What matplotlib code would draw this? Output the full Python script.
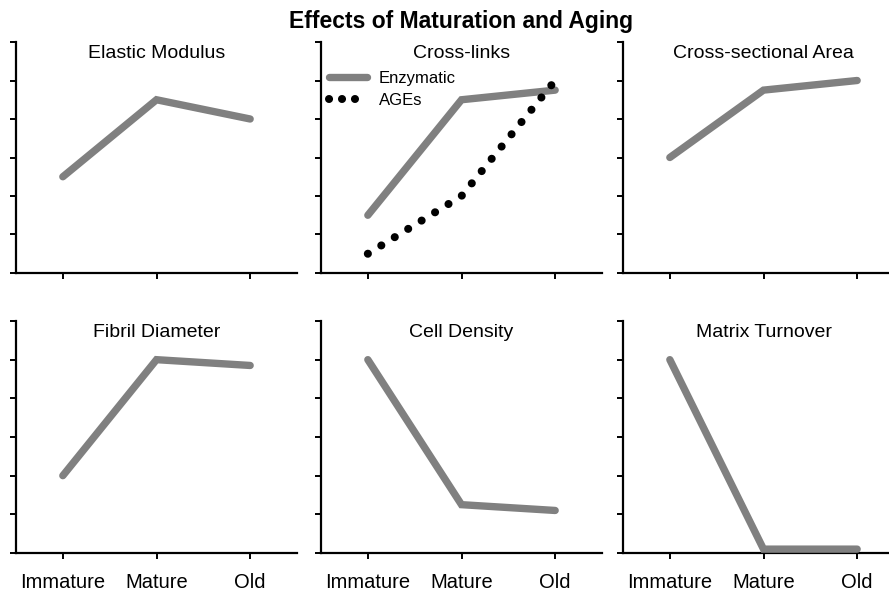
import matplotlib
matplotlib.use("Agg")
import matplotlib.pyplot as plt
from matplotlib.lines import Line2D

plt.rcParams['font.family'] = ['Liberation Sans', 'DejaVu Sans']

stages = ["Immature", "Mature", "Old"]
titles = ["Elastic Modulus", "Cross-links", "Cross-sectional Area",
          "Fibril Diameter", "Cell Density", "Matrix Turnover"]
elastic_modulus = [2.5, 4.5, 4.0]
crosslinks_enzymatic = [1.5, 4.5, 4.75]
crosslinks_ages = [0.5, 2.0, 5.0]
cross_sectional_area = [3.0, 4.75, 5.0]
fibril_diameter = [2.0, 5.0, 4.85]
cell_density = [5.0, 1.25, 1.1]
matrix_turnover = [5.0, 0.1, 0.1]
series = [elastic_modulus, crosslinks_enzymatic, cross_sectional_area,
          fibril_diameter, cell_density, matrix_turnover]

W, H = 889, 591
fig = plt.figure(figsize=(W / 100, H / 100), dpi=100)

lefts = [16, 321, 623]
tops = [42, 321]
bottoms = [273, 553]
width = 281

gray = "#808080"
LW = 5.3
DOT_LW = 5.8
axes = []
for r in range(2):
    for c in range(3):
        ax = fig.add_axes([lefts[c] / W, 1 - bottoms[r] / H, width / W,
                           (bottoms[r] - tops[r]) / H])
        axes.append(ax)

x = list(range(len(stages)))
for i, ax in enumerate(axes):
    ax.plot(x, series[i], color=gray, lw=LW, solid_capstyle='round',
            solid_joinstyle='miter', zorder=3)
    if i == 1:
        ax.plot(x, crosslinks_ages, color='black', lw=DOT_LW,
                linestyle=(0, (0.01, 1.95)), dash_capstyle='round', zorder=4)
        handles = [
            Line2D([], [], color=gray, lw=LW, solid_capstyle='round'),
            Line2D([], [], color='black', lw=DOT_LW, linestyle=(0, (0.01, 1.6)),
                   dash_capstyle='round'),
        ]
        ax.legend(handles, ["Enzymatic", "AGEs"], loc='upper left',
                  bbox_to_anchor=(-0.01, 0.92), frameon=False,
                  fontsize=12, handlelength=2.25, handletextpad=0.75,
                  borderaxespad=0.25, labelspacing=0.42)
    ax.set_xlim(-0.5, 2.5)
    ax.set_ylim(0, 6)
    ax.set_yticks(range(0, 7))
    ax.set_yticklabels([])
    ax.set_xticks(x)
    if i >= 3:
        ax.set_xticklabels(stages, fontsize=14.5)
    else:
        ax.set_xticklabels([])
    for s in ['top', 'right']:
        ax.spines[s].set_visible(False)
    for s in ['left', 'bottom']:
        ax.spines[s].set_linewidth(1.6)
    ax.tick_params(direction='out', length=4.5, width=1.4, pad=10)
    ax.text(0.5, 0.952, titles[i], transform=ax.transAxes, ha='center',
            va='center', fontsize=14)

axes[1].text(0.5, 1.087, "Effects of Maturation and Aging", transform=axes[1].transAxes,
             ha='center', va='center', fontsize=16.5, fontweight='bold')

fig.savefig("out.png", dpi=100)
